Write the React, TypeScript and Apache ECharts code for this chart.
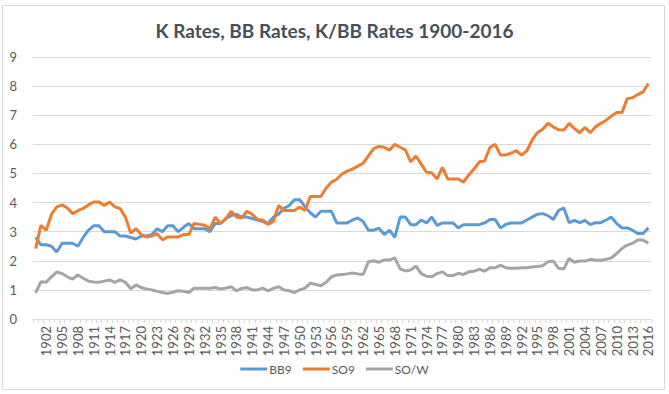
import React, { useEffect, useRef } from "react";
import * as echarts from "echarts";

const years: string[] = [];
for (let y = 1900; y <= 2016; y++) years.push(String(y));

const bb9 = [
  2.8, 2.55, 2.55, 2.5, 2.3, 2.6, 2.6, 2.6, 2.5, 2.8,
  3.05, 3.2, 3.2, 3.0, 3.0, 3.0, 2.85, 2.85, 2.8, 2.75,
  2.85, 2.85, 2.9, 3.1, 3.0, 3.2, 3.2, 3.0, 3.15, 3.28,
  3.1, 3.1, 3.1, 3.0, 3.28, 3.28, 3.45, 3.55, 3.6, 3.5,
  3.5, 3.45, 3.4, 3.35, 3.28, 3.5, 3.6, 3.8, 3.9, 4.1,
  4.1, 3.85, 3.65, 3.5, 3.7, 3.7, 3.7, 3.3, 3.3, 3.3,
  3.4, 3.47, 3.35, 3.05, 3.05, 3.12, 2.9, 3.05, 2.8, 3.5,
  3.5, 3.24, 3.24, 3.4, 3.3, 3.5, 3.22, 3.3, 3.3, 3.3,
  3.13, 3.24, 3.24, 3.24, 3.24, 3.3, 3.42, 3.42, 3.13, 3.25,
  3.3, 3.3, 3.3, 3.4, 3.5, 3.6, 3.62, 3.55, 3.42, 3.73,
  3.81, 3.31, 3.39, 3.31, 3.39, 3.24, 3.31, 3.31, 3.4, 3.5,
  3.28, 3.13, 3.13, 3.05, 2.94, 2.94, 3.13,
];

const so9 = [
  2.42, 3.22, 3.05, 3.6, 3.85, 3.92, 3.81, 3.62, 3.72, 3.8,
  3.92, 4.02, 4.02, 3.9, 4.02, 3.85, 3.79, 3.5, 2.95, 3.1,
  2.9, 2.82, 2.85, 2.93, 2.72, 2.82, 2.82, 2.82, 2.9, 2.9,
  3.28, 3.25, 3.22, 3.1, 3.5, 3.28, 3.45, 3.7, 3.5, 3.47,
  3.7, 3.6, 3.42, 3.4, 3.25, 3.35, 3.9, 3.73, 3.73, 3.73,
  3.85, 3.73, 4.21, 4.21, 4.21, 4.5, 4.7, 4.8, 4.98, 5.08,
  5.15, 5.25, 5.35, 5.6, 5.85, 5.93, 5.9, 5.8, 6.0, 5.9,
  5.81, 5.4, 5.6, 5.32, 5.04, 5.02, 4.81, 5.21, 4.81, 4.81,
  4.81, 4.7, 4.95, 5.15, 5.4, 5.43, 5.89, 6.0, 5.63, 5.63,
  5.7, 5.78, 5.63, 5.78, 6.15, 6.4, 6.52, 6.72, 6.6, 6.5,
  6.49, 6.72, 6.54, 6.4, 6.58, 6.4, 6.6, 6.72, 6.83, 6.97,
  7.09, 7.09, 7.57, 7.6, 7.71, 7.8, 8.09,
];

const sow = [
  0.9, 1.28, 1.26, 1.45, 1.62, 1.56, 1.45, 1.37, 1.51, 1.4,
  1.3, 1.27, 1.26, 1.3, 1.34, 1.26, 1.34, 1.26, 1.04, 1.17,
  1.08, 1.03, 1.0, 0.95, 0.91, 0.88, 0.92, 0.97, 0.95, 0.91,
  1.06, 1.06, 1.06, 1.06, 1.08, 1.03, 1.06, 1.11, 0.97, 1.05,
  1.08, 1.0, 1.0, 1.06, 0.97, 1.05, 1.11, 1.0, 0.97, 0.91,
  1.0, 1.06, 1.23, 1.19, 1.14, 1.26, 1.45, 1.51, 1.53, 1.55,
  1.58, 1.55, 1.53, 1.97, 2.0, 1.95, 2.03, 2.03, 2.1, 1.72,
  1.65, 1.68, 1.82, 1.56, 1.47, 1.45, 1.56, 1.62, 1.49, 1.49,
  1.57, 1.53, 1.62, 1.64, 1.71, 1.64, 1.76, 1.76, 1.85, 1.76,
  1.74, 1.74, 1.76, 1.76, 1.79, 1.8, 1.83, 1.97, 1.99, 1.74,
  1.72, 2.08, 1.95, 1.99, 1.99, 2.05, 2.02, 2.02, 2.05, 2.1,
  2.25, 2.42, 2.54, 2.6, 2.71, 2.71, 2.6,
];

const titleText = "K Rates, BB Rates, K/BB Rates 1900-2016";
const seriesNames = ["BB9", "SO9", "SO/W"];
const colors = ["#5B9BD5", "#ED7D31", "#A5A5A5"];

export default function App() {
  const ref = useRef<HTMLDivElement>(null);
  useEffect(() => {
    if (!ref.current) return;
    const chart = echarts.init(ref.current, undefined, { renderer: "svg" });
    const font = "Lato, 'Open Sans', sans-serif";
    const data = [bb9, so9, sow];
    chart.setOption({
      animation: false,
      backgroundColor: "#ffffff",
      textStyle: { fontFamily: font },
      title: {
        text: titleText,
        left: "center",
        top: 16,
        textStyle: { fontFamily: font, fontSize: 19, fontWeight: "bold", color: "#46505b" },
      },
      graphic: [
        {
          type: "rect",
          shape: { x: 2.5, y: 5.5, width: 662, height: 384 },
          style: { fill: "none", stroke: "#d9d9d9", lineWidth: 1 },
          silent: true,
        },
      ],
      legend: {
        bottom: 14,
        left: "center",
        itemWidth: 27,
        itemHeight: 3,
        itemGap: 11,
        icon: "rect",
        textStyle: { fontFamily: font, fontSize: 12, color: "#595959", padding: [0, 0, 0, -3] },
        data: seriesNames,
      },
      grid: { left: 33, right: 18, top: 57, bottom: 75 },
      xAxis: {
        type: "category",
        data: years,
        boundaryGap: true,
        axisLine: { lineStyle: { color: "#d9d9d9", width: 1 } },
        axisTick: {
          show: true,
          interval: 0,
          length: 4,
          lineStyle: { color: "#d9d9d9" },
        },
        axisLabel: {
          rotate: 90,
          interval: (idx: number) => idx >= 2 && (idx - 2) % 3 === 0,
          color: "#595959",
          fontSize: 13,
          fontFamily: font,
          margin: 7,
        },
      },
      yAxis: {
        type: "value",
        min: 0,
        max: 9,
        interval: 1,
        axisLine: { show: false },
        axisTick: { show: false },
        splitLine: { lineStyle: { color: "#d9d9d9", width: 1 } },
        axisLabel: { color: "#595959", fontSize: 13, fontFamily: font, margin: 16 },
      },
      series: seriesNames.map((n, i) => ({
        name: n,
        type: "line",
        data: data[i],
        showSymbol: false,
        symbol: "none",
        lineStyle: { color: colors[i], width: 3 },
        itemStyle: { color: colors[i] },
      })),
    });
    return () => chart.dispose();
  }, []);
  return (
    <div
      ref={ref}
      style={{ position: "absolute", left: 0, top: 0, width: 669, height: 394 }}
    />
  );
}
